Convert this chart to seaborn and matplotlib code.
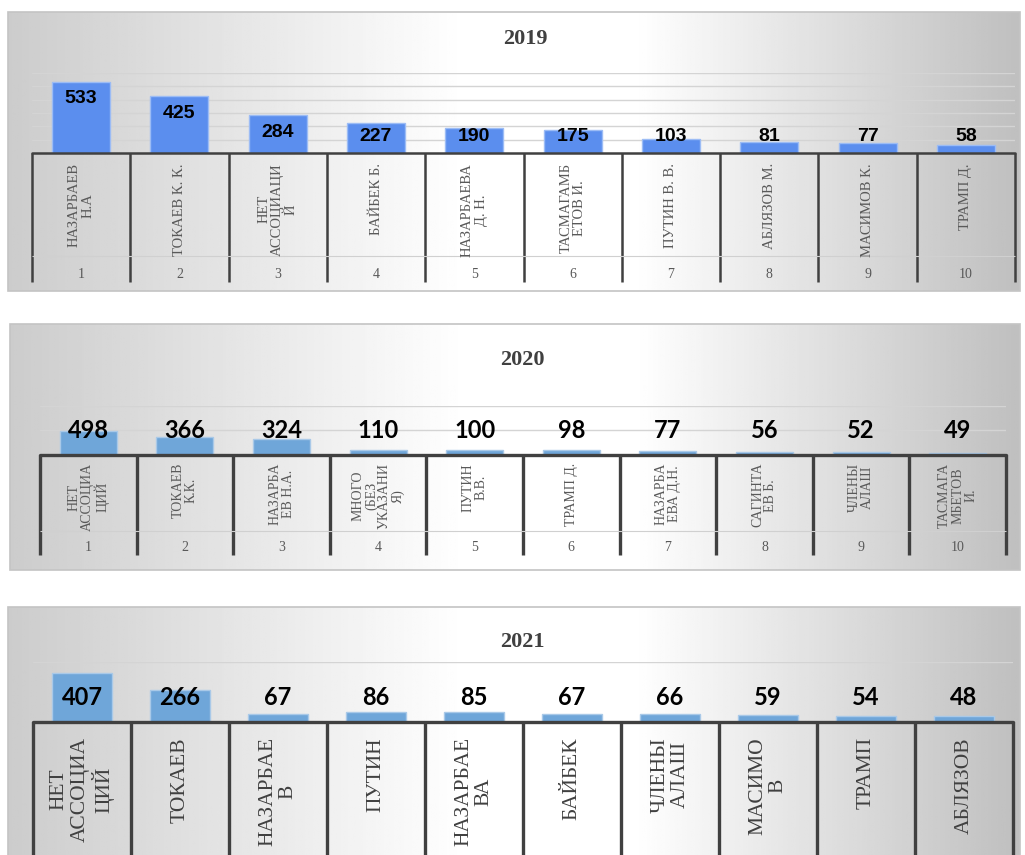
import numpy as np
import pandas as pd
import seaborn as sns
import matplotlib
matplotlib.use('Agg')
import matplotlib.pyplot as plt
from matplotlib.patches import Rectangle

# данные по годам
names_2019 = ['НАЗАРБАЕВ\nН.А', 'ТОКАЕВ К. К.', 'НЕТ\nАССОЦИАЦИ\nЙ', 'БАЙБЕК Б.', 'НАЗАРБАЕВА\nД. Н.',
              'ТАСМАГАМБ\nЕТОВ И.', 'ПУТИН В. В.', 'АБЛЯЗОВ М.', 'МАСИМОВ К.', 'ТРАМП Д.']
values_2019 = [533, 425, 284, 227, 190, 175, 103, 81, 77, 58]

names_2020 = ['НЕТ\nАССОЦИА\nЦИЙ', 'ТОКАЕВ\nК.К.', 'НАЗАРБА\nЕВ Н.А.', 'МНОГО\n(БЕЗ\nУКАЗАНИ\nЯ)', 'ПУТИН\nВ.В.',
              'ТРАМП Д.', 'НАЗАРБА\nЕВА Д.Н.', 'САГИНТА\nЕВ Б.', 'ЧЛЕНЫ\nАЛАШ', 'ТАСМАГА\nМБЕТОВ\nИ.']
values_2020 = [498, 366, 324, 110, 100, 98, 77, 56, 52, 49]

names_2021 = ['НЕТ\nАССОЦИА\nЦИЙ', 'ТОКАЕВ', 'НАЗАРБАЕ\nВ', 'ПУТИН', 'НАЗАРБАЕ\nВА',
              'БАЙБЕК', 'ЧЛЕНЫ\nАЛАШ', 'МАСИМО\nВ', 'ТРАМП', 'АБЛЯЗОВ']
values_2021 = [407, 266, 67, 86, 85, 67, 66, 59, 54, 48]

ranks = [str(i) for i in range(1, 11)]

W, H = 1025, 855

sns.set_style('white')
plt.rcParams['font.family'] = ['Liberation Serif', 'DejaVu Serif']

fig = plt.figure(figsize=(W / 100, H / 100), dpi=100)


def rect(l, t, r, b):
    return [l / W, 1 - b / H, (r - l) / W, (b - t) / H]


def draw_background(l, t, r, b):
    bg = fig.add_axes(rect(l, t, r, b), zorder=0)
    xs = np.linspace(0, 1, 400)
    shade = np.interp(xs, [0, 0.45, 0.62, 1.0], [0.80, 1.0, 1.0, 0.75])
    bg.imshow(np.tile(shade, (2, 1)), cmap='gray', vmin=0, vmax=1, aspect='auto',
              extent=[0, 1, 0, 1])
    bg.set_xlim(0, 1)
    bg.set_ylim(0, 1)
    bg.axis('off')
    bg.add_patch(Rectangle((0, 0), 1, 1, transform=bg.transAxes, fill=False,
                           edgecolor='#c4c4c4', lw=1.2, clip_on=False))


def draw_panel(names, values, box, frame, title, title_xy, ymax, grid,
               bar_color, edge_color, label_pos, label_font, name_font,
               name_top, depth, num_y=None, sep_y=None, div_lw=1.5, name_color='#595959',
               name_spacing=0.9, bar_width=0.6):
    draw_background(*frame)
    ax = fig.add_axes(rect(*box), zorder=1)
    ax.patch.set_alpha(0)
    df = pd.DataFrame({'name': names, 'value': values})
    sns.barplot(data=df, x='name', y='value', ax=ax, color=bar_color, width=bar_width,
                edgecolor=edge_color, linewidth=1, saturation=1, zorder=3)
    ax.set_xlim(-0.5, len(names) - 0.5)
    ax.set_ylim(0, ymax)
    ax.set_yticks(grid)
    ax.yaxis.grid(True, color='#d4d4d4', lw=1)
    ax.set_xticks([])
    ax.set_yticklabels([])
    ax.tick_params(left=False, bottom=False)
    ax.set_xlabel('')
    ax.set_ylabel('')
    for s in ax.spines.values():
        s.set_visible(False)
    ax.axhline(0, color='#404040', lw=div_lw, zorder=4, clip_on=False)

    # подписи значений
    for i, v in enumerate(values):
        ax.text(i, label_pos(v), str(v), ha='center', va='center', zorder=5, **label_font)

    # вертикальные разделители категорий
    xa = ax.get_xaxis_transform()
    ax.vlines(np.arange(len(names) + 1) - 0.5, 0, -depth, transform=xa, clip_on=False,
              color='#404040', lw=div_lw)
    if sep_y is not None:
        ax.hlines(sep_y, -0.5, len(names) - 0.5, transform=xa, clip_on=False,
                  color='#d0d0d0', lw=0.8)
    for i, n in enumerate(names):
        ax.text(i, name_top, n, transform=xa, rotation=90, ha='center', va='top',
                multialignment='center', linespacing=name_spacing, color=name_color,
                clip_on=False, **name_font)
        if num_y is not None:
            ax.text(i, num_y, ranks[i], transform=xa, ha='center', va='center',
                    color='#595959', clip_on=False, fontsize=10)

    fig.text(title_xy[0] / W, 1 - title_xy[1] / H, title, ha='center', va='center',
             fontsize=16, fontweight='bold', color='#404040', family='Liberation Serif')
    return ax


# 2019
draw_panel(names_2019, values_2019, box=(32, 73, 1015, 153), frame=(8, 12, 1020, 291),
           title='2019', title_xy=(525, 39), ymax=600, grid=range(100, 601, 100),
           bar_color='#5b8eee', edge_color='#9cbcf5',
           label_pos=lambda v: max(v - 127, 127),
           label_font=dict(fontsize=14, fontweight='bold', family='Liberation Sans', color='black'),
           name_font=dict(fontsize=10.5), name_top=-0.125, depth=129 / 80,
           num_y=-1.5125, sep_y=-1.2875, div_lw=1.8, name_spacing=1.05, bar_width=0.59)

# 2020
draw_panel(names_2020, values_2020, box=(40, 406, 1006, 455), frame=(10, 324, 1020, 570),
           title='2020', title_xy=(522, 360), ymax=1000, grid=[500, 1000],
           bar_color='#6fa6d9', edge_color='#a9c9e8',
           label_pos=lambda v: 510,
           label_font=dict(fontsize=17, fontweight='bold', family='Lato', color='black'),
           name_font=dict(fontsize=10), name_top=-0.163, depth=100 / 49,
           num_y=-1.878, sep_y=-1.551, div_lw=2.4, name_spacing=1.0, bar_width=0.59)

# 2021
draw_panel(names_2021, values_2021, box=(33, 662, 1013, 722), frame=(8, 607, 1020, 870),
           title='2021', title_xy=(522, 642), ymax=500, grid=[500],
           bar_color='#6fa6d9', edge_color='#a9c9e8',
           label_pos=lambda v: 208,
           label_font=dict(fontsize=17, fontweight='bold', family='Lato', color='black'),
           name_font=dict(fontsize=15.5), name_top=-0.25, depth=140 / 60,
           div_lw=2.4, name_color='#404040', name_spacing=1.1, bar_width=0.61)

fig.savefig('out.png', dpi=100, facecolor='white')
